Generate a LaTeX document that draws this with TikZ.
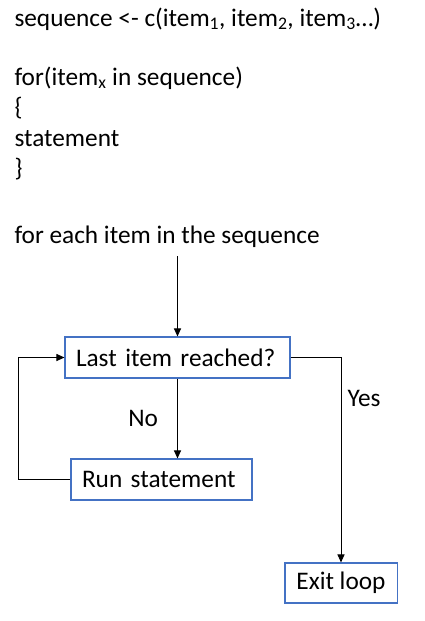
\documentclass[tikz,border=0pt]{standalone}
\usepackage{fontspec}
\setmainfont{Carlito}
\usetikzlibrary{arrows.meta, positioning}
\definecolor{boxblue}{HTML}{4472C4}

\begin{document}
\begin{tikzpicture}[
    x=1pt, y=-1pt,
    >={Triangle[length=8pt,width=7pt]}, % 矢印の形
    font=\fontsize{25.3}{30}\selectfont,
    line width=1pt,
    % 処理ブロック
    block/.style={rectangle, draw=boxblue, line width=1.1pt, minimum height=41pt,
        inner xsep=11pt, inner ysep=0pt, align=left},
    % コード表示
    codetext/.style={inner sep=0pt, anchor=base west},
    % ラベル
    lbl/.style={inner sep=3pt}
]
\useasboundingbox (0,0) rectangle (424,621);

% 1. コードと説明文
\node [codetext] (code) at (14,26)
    {sequence <- c(item\textsubscript{1}, item\textsubscript{2}, item\textsubscript{3}…)};
\node [codetext] (forline) at (14,85) {for(item\textsubscript{x} in sequence)};
\node [codetext] (open) at (14,115) {\{};
\node [codetext] (stmt) at (14,146) {statement};
\node [codetext] (close) at (14,176) {\}};
\node [codetext] (each) at (14,243) {for each item in the sequence};

% 2. フローチャートのブロック
\node [block, text width=203pt] (check) at (177.5,357.5) {Last item reached?};
\node [coordinate, above=80pt of check] (start) {};
\node [block, text width=159pt] (run) at (161.5,479.5) {Run statement};
\node [block, align=center, inner xsep=11.5pt, minimum height=40pt] (exit) at (341,583) {Exit loop};

% 3. 矢印
\draw [->] (start) -- (check);
\draw [->] (check.south) -- node[lbl, left=16pt] {No} (check.south |- run.north);
\draw [->] (run.west) -- ++(-52,0) |- (check.west);
\draw [->] (check.east) -| node[lbl, pos=0.6, right=3pt] {Yes} (exit.north);

\end{tikzpicture}
\end{document}
